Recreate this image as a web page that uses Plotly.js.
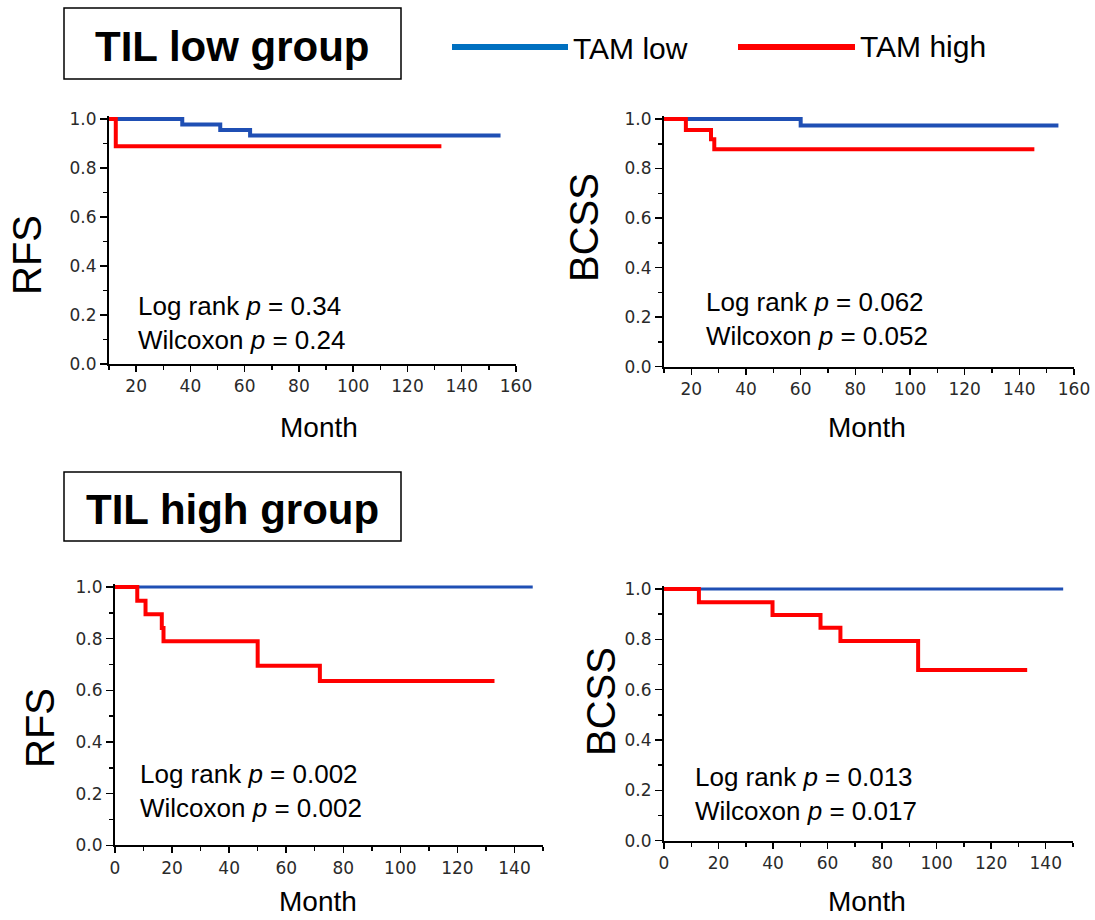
<!DOCTYPE html>
<html>
<head>
<meta charset="utf-8">
<script src="https://cdn.plot.ly/plotly-3.0.1.min.js"></script>
<style>html,body{margin:0;padding:0;background:#fff;}#chart{width:1095px;height:920px;}</style>
</head>
<body>
<div id="chart"></div>
<script>
// ---- Data (Kaplan–Meier step curves, months vs. survival probability) ----
const seriesNames = ["TAM low", "TAM high"];
const groupTitles = ["TIL low group", "TIL high group"];
const yTitles = ["RFS", "BCSS", "RFS", "BCSS"];
const xTitle = "Month";

// Panel 1: TIL low, RFS
const p1LowT  = [0, 37, 51, 62, 154.3];
const p1LowS  = [1.0, 0.977, 0.955, 0.932, 0.932];
const p1HighT = [0, 12.5, 132.5];
const p1HighS = [1.0, 0.889, 0.889];

// Panel 2: TIL low, BCSS
const p2LowT  = [0, 60, 154.3];
const p2LowS  = [1.0, 0.974, 0.974];
const p2HighT = [0, 18, 27.2, 28.4, 145.5];
const p2HighS = [1.0, 0.955, 0.918, 0.878, 0.878];

// Panel 3: TIL high, RFS
const p3LowT  = [0, 146.4];
const p3LowS  = [1.0, 1.0];
const p3HighT = [0, 7.8, 10.7, 16.4, 17, 50, 71.8, 133];
const p3HighS = [1.0, 0.947, 0.895, 0.842, 0.790, 0.695, 0.636, 0.636];

// Panel 4: TIL high, BCSS
const p4LowT  = [0, 146.4];
const p4LowS  = [1.0, 1.0];
const p4HighT = [0, 12.8, 39.8, 57.4, 64.7, 93.2, 133.2];
const p4HighS = [1.0, 0.947, 0.897, 0.846, 0.793, 0.678, 0.678];

const pTexts = [
  ["0.34", "0.24"],
  ["0.062", "0.052"],
  ["0.002", "0.002"],
  ["0.013", "0.017"]
];

// ---- Styling / layout ----
const W = 1095, H = 920;
const px = v => v / W;
const py = v => 1 - v / H;
const BLUE = "#1f4fb4", RED = "#ff0000", LEG_BLUE = "#0070c0";

function trace(t, s, color, width, ax, name) {
  return {
    x: t, y: s, type: "scatter", mode: "lines",
    line: {shape: "hv", color: color, width: width},
    xaxis: "x" + ax, yaxis: "y" + ax, name: name, showlegend: false,
    hoverinfo: "skip"
  };
}

const data = [
  trace(p1LowT, p1LowS, BLUE, 4, "", seriesNames[0]),
  trace(p1HighT, p1HighS, RED, 4, "", seriesNames[1]),
  trace(p2LowT, p2LowS, BLUE, 4, "2", seriesNames[0]),
  trace(p2HighT, p2HighS, RED, 4, "2", seriesNames[1]),
  trace(p3LowT, p3LowS, BLUE, 3, "3", seriesNames[0]),
  trace(p3HighT, p3HighS, RED, 4, "3", seriesNames[1]),
  trace(p4LowT, p4LowS, BLUE, 3, "4", seriesNames[0]),
  trace(p4HighT, p4HighS, RED, 4, "4", seriesNames[1])
];

const tickFont = {family: "DejaVu Sans, Verdana, sans-serif", size: 17, color: "#2a2a2a"};

function xAxis(domain, range, anchor) {
  return {
    domain: domain, range: range, anchor: anchor,
    showline: true, linecolor: "black", linewidth: 2,
    showgrid: false, zeroline: false,
    ticks: "outside", ticklen: 6, tickwidth: 1.5, tickcolor: "black",
    tick0: 0, dtick: 20, tickfont: tickFont,
    minor: {ticks: "outside", ticklen: 4, tickwidth: 1.5, tickcolor: "black", dtick: 10, tick0: 0, showgrid: false},
    fixedrange: true
  };
}
function yAxis(domain, anchor) {
  return {
    domain: domain, range: [0, 1.012], anchor: anchor,
    showline: true, linecolor: "black", linewidth: 2,
    showgrid: false, zeroline: false,
    ticks: "outside", ticklen: 7, tickwidth: 1.5, tickcolor: "black",
    tick0: 0, dtick: 0.2, tickformat: ".1f", tickfont: tickFont,
    minor: {ticks: "outside", ticklen: 4, tickwidth: 1.5, tickcolor: "black", dtick: 0.1, tick0: 0, showgrid: false},
    fixedrange: true
  };
}

const annFont = {family: "Liberation Sans, Arial, sans-serif", color: "black"};
const annotations = [];
function addText(text, x, y, size, opts) {
  annotations.push(Object.assign({
    text: text, x: px(x), y: py(y), xref: "paper", yref: "paper",
    showarrow: false, xanchor: "center", yanchor: "middle",
    font: Object.assign({}, annFont, {size: size})
  }, opts || {}));
}

// Group titles
addText("<b>" + groupTitles[0] + "</b>", 232, 46, 42);
addText("<b>" + groupTitles[1] + "</b>", 232, 509, 42);
// Legend text
addText(seriesNames[0], 571, 48, 30, {xanchor: "left"});
addText(seriesNames[1], 858, 46, 30, {xanchor: "left"});
// Y titles
addText(yTitles[0], 27, 255, 40, {textangle: -90});
addText(yTitles[1], 584, 228, 40, {textangle: -90});
addText(yTitles[2], 40, 728, 40, {textangle: -90});
addText(yTitles[3], 601, 702, 40, {textangle: -90});
// X titles
addText(xTitle, 319, 427, 28);
addText(xTitle, 867, 427, 28);
addText(xTitle, 318, 901, 28);
addText(xTitle, 867, 901, 28);
// p-values
const pPos = [[136, 323], [704, 319], [138, 791], [693, 794]];
pTexts.forEach((p, i) => {
  addText("Log rank <i>p</i> = " + p[0] + "<br>Wilcoxon <i>p</i> = " + p[1],
          pPos[i][0], pPos[i][1], 26, {xanchor: "left", align: "left"});
});

const shapes = [
  {type: "rect", xref: "paper", yref: "paper", x0: px(64), x1: px(401), y0: py(79), y1: py(8),
   line: {color: "black", width: 1.5}},
  {type: "rect", xref: "paper", yref: "paper", x0: px(64), x1: px(401), y0: py(541), y1: py(472),
   line: {color: "black", width: 1.5}},
  {type: "line", xref: "paper", yref: "paper", x0: px(452), x1: px(568), y0: py(47), y1: py(47),
   line: {color: LEG_BLUE, width: 6}},
  {type: "line", xref: "paper", yref: "paper", x0: px(738), x1: px(855), y0: py(47), y1: py(47),
   line: {color: RED, width: 6}}
];

const layout = {
  width: W, height: H,
  margin: {l: 0, r: 0, t: 0, b: 0},
  paper_bgcolor: "white", plot_bgcolor: "white",
  showlegend: false,
  xaxis:  xAxis([px(109), px(516)], [10, 160], "y"),
  yaxis:  yAxis([py(364), py(116)], "x"),
  xaxis2: xAxis([px(664), px(1074)], [10, 160], "y2"),
  yaxis2: yAxis([py(366.7), py(116)], "x2"),
  xaxis3: xAxis([px(115), px(543)], [0, 150], "y3"),
  yaxis3: yAxis([py(845.3), py(584)], "x3"),
  xaxis4: xAxis([px(664), px(1073)], [0, 150], "y4"),
  yaxis4: yAxis([py(840.7), py(586)], "x4"),
  annotations: annotations,
  shapes: shapes
};

Plotly.newPlot("chart", data, layout, {displayModeBar: false, staticPlot: true});
</script>
</body>
</html>
